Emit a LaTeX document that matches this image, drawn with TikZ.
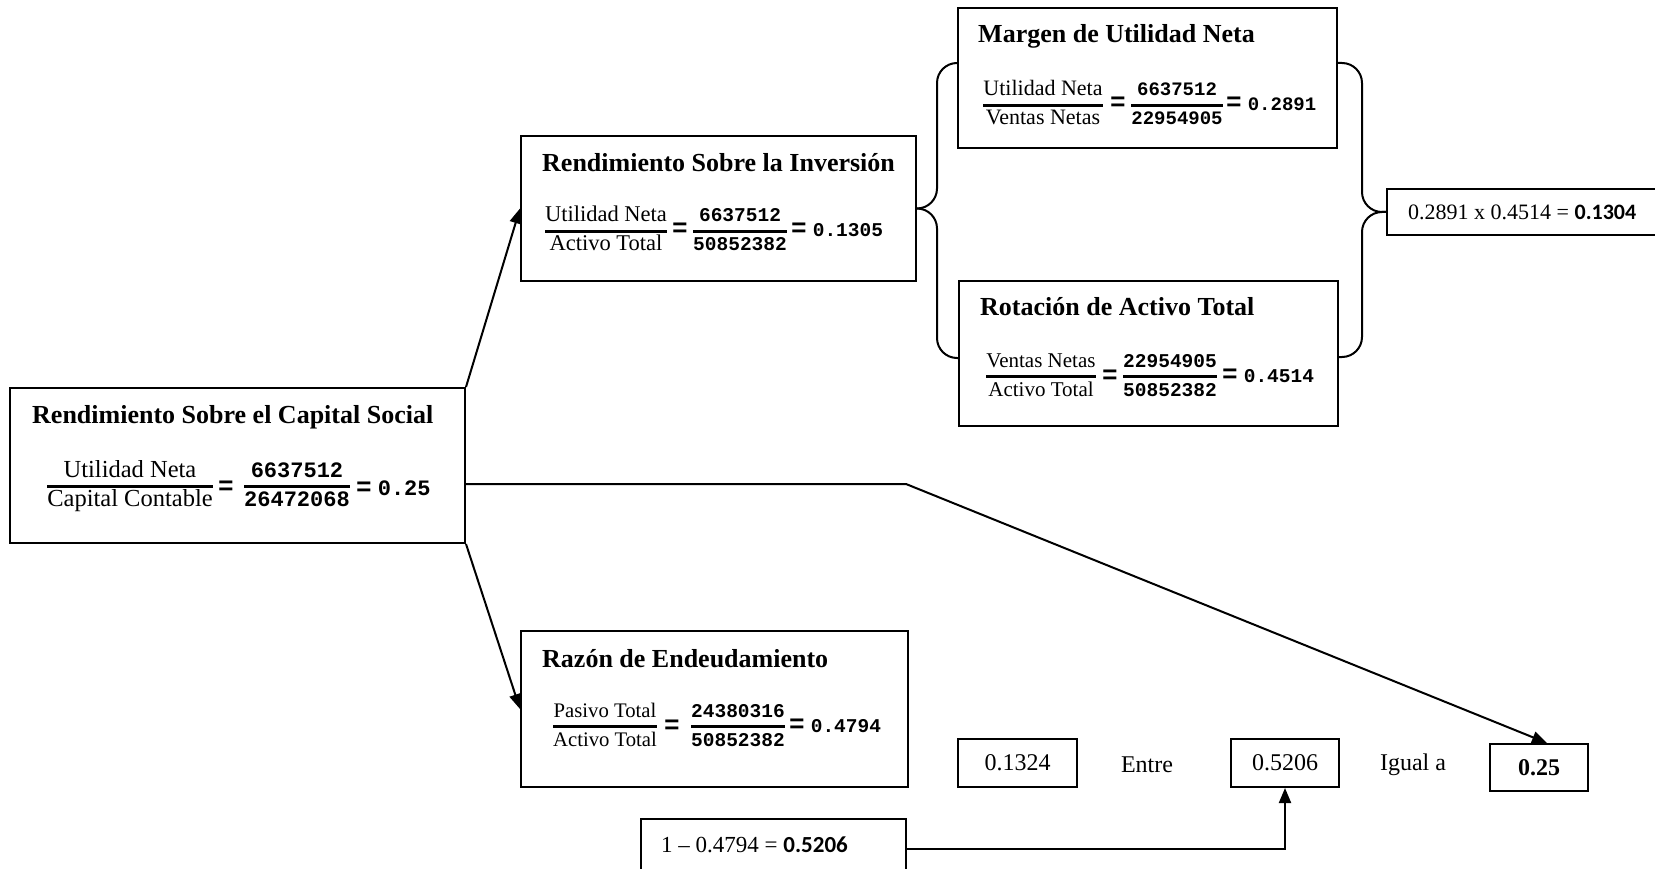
\documentclass[tikz,border=0pt]{standalone}
\usepackage{fontspec}
\setmainfont{Liberation Serif}
\newfontfamily\monof{Liberation Mono}
\newfontfamily\carl{Carlito}
\usetikzlibrary{arrows.meta,calc}
\newcommand\fsz[1]{\fontsize{#1}{#1}\selectfont}
\newcommand\fr[2]{{\renewcommand\arraystretch{0}\setlength\arrayrulewidth{3pt}\begin{tabular}[t]{@{}c@{}}#1\rule[-8pt]{0pt}{8pt}\\\hline\rule{0pt}{18pt}#2\end{tabular}}}
\newcommand\beq{{\fsz{26}=}\hspace{6pt}}
\tikzset{
  box/.style={draw, line width=2pt, inner sep=0pt},
  ttl/.style={anchor=base west, inner sep=0pt, font=\bfseries\fsz{26}},
  wfr/.style={anchor=base, inner sep=0pt, font=\fsz{#1}},
  nfr/.style={anchor=base, inner sep=0pt, font=\monof\bfseries\fsz{#1}},
  eqs/.style={anchor=center, inner sep=0pt, font=\monof\bfseries\fsz{26}},
  rslt/.style={anchor=west, inner sep=0pt, font=\monof\bfseries\fsz{#1}},
  plain/.style={inner sep=0pt, font=\fsz{24}},
  conn/.style={line width=2pt},
  arr/.style={-{Triangle[length=15pt,width=12pt]}}
}
\begin{document}
\begin{tikzpicture}[x=1pt,y=-1pt]
\fill[white] (0,0) rectangle (1655,869);
\useasboundingbox (0,0) rectangle (1655,869);

% Rendimiento Sobre el Capital Social
\node[box, minimum width=455pt, minimum height=155pt] (rcs) at (237.5,465.5) {};
\node[ttl] (rcst) at (32,423) {Rendimiento Sobre el Capital Social};
\node[wfr=24.5] (rcsa) at (130,477) {\fr{Utilidad Neta}{Capital Contable}};
\node[eqs] (rcse) at (226,488) {=};
\node[nfr=22] (rcsb) at (297,477) {\fr{6637512}{26472068}};
\node[rslt=22] (rcsr) at (356,488) {\beq 0.25};

% Rendimiento Sobre la Inversion
\node[box, minimum width=395pt, minimum height=145pt] (rsi) at (718.5,208.5) {};
\node[ttl] (rsit) at (542,172) {Rendimiento Sobre la Inversión};
\node[wfr=22.5] (rsia) at (606,222) {\fr{Utilidad Neta}{Activo Total}};
\node[eqs] (rsie) at (680,230) {=};
\node[nfr=19.5] (rsib) at (740,222) {\fr{6637512}{50852382}};
\node[rslt=19.5] (rsir) at (791,230) {\beq 0.1305};

% Margen de Utilidad Neta
\node[box, minimum width=379pt, minimum height=140pt] (mun) at (1147.5,78) {};
\node[ttl] (munt) at (978,43) {Margen de Utilidad Neta};
\node[wfr=22] (muna) at (1043,96) {\fr{Utilidad Neta}{Ventas Netas}};
\node[eqs] (mune) at (1118,104) {=};
\node[nfr=19] (munb) at (1177,96) {\fr{6637512}{22954905}};
\node[rslt=19] (munr) at (1226,104) {\beq 0.2891};

% Rotacion de Activo Total
\node[box, minimum width=379pt, minimum height=145pt] (rat) at (1148.5,353.5) {};
\node[ttl] (ratt) at (980,315) {Rotación de Activo Total};
\node[wfr=21] (rata) at (1041,367) {\fr{Ventas Netas}{Activo Total}};
\node[eqs] (rate) at (1110,377) {=};
\node[nfr=19.5] (ratb) at (1170,367) {\fr{22954905}{50852382}};
\node[rslt=19.5] (ratr) at (1222,376) {\beq 0.4514};

% Razon de Endeudamiento
\node[box, minimum width=387pt, minimum height=156pt] (re) at (714.5,709) {};
\node[ttl] (ret) at (542,667) {Razón de Endeudamiento};
\node[wfr=20.7] (rea) at (605,717) {\fr{Pasivo Total}{Activo Total}};
\node[eqs] (ree) at (672,727) {=};
\node[nfr=19.5] (reb) at (738,717) {\fr{24380316}{50852382}};
\node[rslt=19.5] (rer) at (789,726) {\beq 0.4794};

% result box right
\node[box, minimum width=275pt, minimum height=46pt] (res) at (1524.5,212) {};
\node[anchor=west, inner sep=0pt, font=\fsz{22}] (rest) at (1408,212) {0.2891 x 0.4514 = {\carl\bfseries 0.1304}};

% bottom row
\node[box, plain, minimum width=119pt, minimum height=48pt] (b1) at (1017.5,763) {0.1324};
\node[plain] (entre) at (1147,765) {Entre};
\node[box, plain, minimum width=108pt, minimum height=48pt] (b2) at (1285,763) {0.5206};
\node[plain] (igual) at (1413,765) {Igual a};
\node[box, plain, font=\bfseries\fsz{24}, minimum width=98pt, minimum height=47pt] (b3) at (1539,767.5) {0.25};
\node[box, minimum width=265pt, minimum height=59pt] (b4) at (773.5,848.5) {};
\node[anchor=west, inner sep=0pt, font=\fsz{23}] (b4t) at (661,845) {1 – 0.4794 = {\carl\bfseries 0.5206}};

% connectors
\draw[conn, arr] (rcs.north east) -- (rsi.west);
\draw[conn, arr] (rcs.south east) -- (re.west);
\coordinate (k1) at (906,484);
\draw[conn, arr] (rcs.east |- k1) -- (k1) -- ($(b3.north)+(8,0)$);
\draw[conn, arr] (b4.east) -| (b2.south);

% braces
\coordinate (ls) at (937,0);
\coordinate (lm) at (958,63);
\coordinate (lr) at (959,358);
\draw[conn, rounded corners=20pt] (lm) -- (ls |- lm) -- (ls |- rsi.east) -- (rsi.east);
\draw[conn, rounded corners=20pt] (rsi.east) -- (ls |- rsi.east) -- (ls |- lr) -- (lr);
\coordinate (rs) at (1362,0);
\coordinate (rm) at (1337,63);
\coordinate (rr) at (1338,357);
\draw[conn, rounded corners=20pt] (rm) -- (rs |- rm) -- (rs |- res.west) -- (res.west);
\draw[conn, rounded corners=20pt] (res.west) -- (rs |- res.west) -- (rs |- rr) -- (rr);
\end{tikzpicture}
\end{document}
